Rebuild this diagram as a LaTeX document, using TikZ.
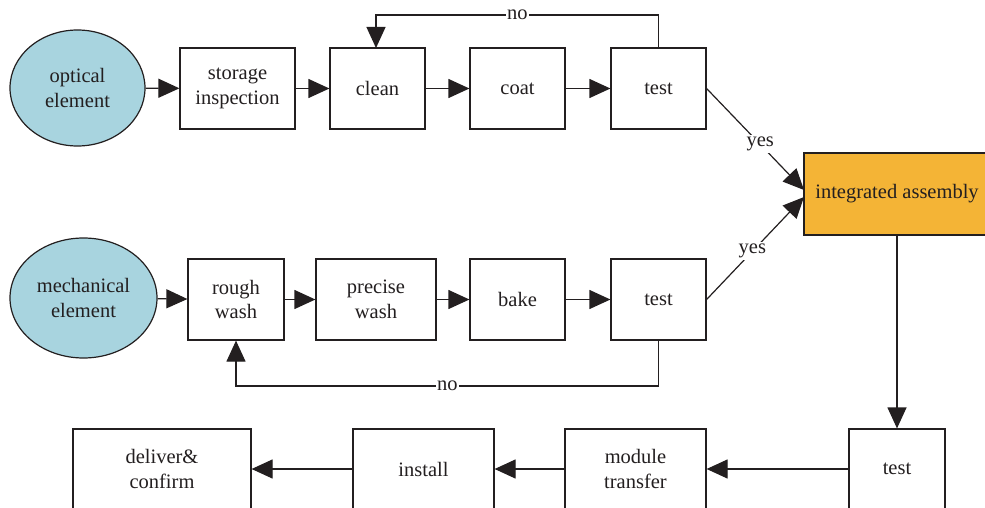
\documentclass[tikz,border=0pt]{standalone}
\usepackage{fontspec}
\setmainfont{Liberation Serif}
\usetikzlibrary{arrows.meta,shapes.geometric}
\definecolor{elemblue}{HTML}{A8D4DF}
\definecolor{assyorange}{HTML}{F4B436}
\definecolor{ink}{HTML}{231F20}
\tikzset{
  every node/.style={font=\fontsize{20.5pt}{24.5pt}\selectfont, text=ink},
  stepbox/.style={draw=ink, line width=1.2pt, fill=white, minimum height=81pt, inner sep=0pt, align=center},
  elem/.style={ellipse, draw=ink, line width=1.2pt, fill=elemblue, inner sep=0pt, align=center},
  flow/.style={draw=ink, line width=1.2pt, -{Triangle[length=21pt,width=19pt]}},
  lbl/.style={fill=white, inner sep=2pt}
}
\begin{document}
\begin{tikzpicture}[x=1pt, y=-1pt]
  \useasboundingbox (0,0) rectangle (985,508);
  \clip (0,0) rectangle (985,508);

  % optical branch
  \node[elem, minimum width=135pt, minimum height=116pt] (opt) at (77.5,88) {optical\\element};
  \node[stepbox, minimum width=115pt] (si) at (237.5,88.5) {storage\\inspection};
  \node[stepbox, minimum width=95pt] (clean) at (377.5,88.5) {clean};
  \node[stepbox, minimum width=95pt] (coat) at (517.5,88.5) {coat};
  \node[stepbox, minimum width=95pt] (testA) at (658.5,88.5) {test};

  % mechanical branch
  \node[elem, minimum width=147pt, minimum height=120pt] (mech) at (83.5,298) {mechanical\\element};
  \node[stepbox, minimum width=96pt] (rough) at (236,299.5) {rough\\wash};
  \node[stepbox, minimum width=120pt] (precise) at (376,299.5) {precise\\wash};
  \node[stepbox, minimum width=95pt] (bake) at (517.5,299.5) {bake};
  \node[stepbox, minimum width=95pt] (testB) at (658.5,299.5) {test};

  % assembly
  \node[stepbox, fill=assyorange, minimum width=186pt, minimum height=82pt] (assy) at (897,194) {integrated assembly};

  % final row
  \node[stepbox, minimum width=96pt, minimum height=80pt] (testC) at (897,469) {test};
  \node[stepbox, minimum width=141pt, minimum height=80pt] (transfer) at (635.5,469) {module\\transfer};
  \node[stepbox, minimum width=141pt, minimum height=80pt] (install) at (423.5,469) {install};
  \node[stepbox, minimum width=178pt, minimum height=80pt] (deliver) at (162,469) {deliver\&\\confirm};

  % optical flow
  \draw[flow] (opt) -- (si);
  \draw[flow] (si) -- (clean);
  \draw[flow] (clean) -- (coat);
  \draw[flow] (coat) -- (testA);
  \coordinate (noA1) at (658.5,15);
  \coordinate (noA2) at (376,15);
  \draw[flow] (testA.north) -- (noA1) -- node[lbl, inner sep=1pt] {no} (noA2) -- (376,48);

  % mechanical flow
  \draw[flow] (mech) -- (rough);
  \draw[flow] (rough) -- (precise);
  \draw[flow] (precise) -- (bake);
  \draw[flow] (bake) -- (testB);
  \coordinate (noB1) at (658.5,386);
  \coordinate (noB2) at (236,386);
  \draw[flow] (testB.south) -- (noB1) -- node[lbl, inner sep=1pt, pos=0.5] {no} (noB2) -- (rough.south);

  % into assembly
  \coordinate (inA) at (804,190);
  \coordinate (inB) at (804,197);
  \draw[flow] (testA.east) -- node[lbl, pos=0.55] {yes} (inA);
  \draw[flow] (testB.east) -- node[lbl, pos=0.47] {yes} (inB);

  % final flow
  \draw[flow] (assy.south) -- (testC.north);
  \draw[flow] (testC) -- (transfer);
  \draw[flow] (transfer) -- (install);
  \draw[flow] (install) -- (deliver);
\end{tikzpicture}
\end{document}
